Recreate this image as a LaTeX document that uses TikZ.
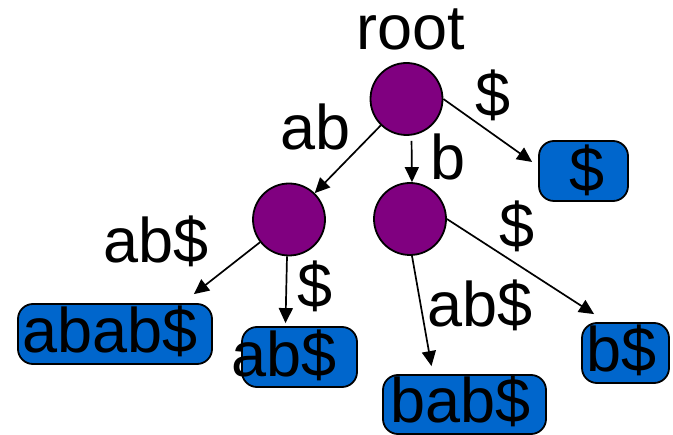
\documentclass[tikz,border=0pt]{standalone}
\usepackage{fontspec}
\setmainfont{Liberation Sans}
\usetikzlibrary{arrows.meta,calc}

\definecolor{nodepurple}{RGB}{128,0,128}
\definecolor{leafblue}{RGB}{0,102,204}

\tikzset{
  inner/.style={circle, draw=black, line width=1.8pt, fill=nodepurple,
    minimum size=72pt, inner sep=0pt},
  leaf/.style={rectangle, rounded corners=15pt, draw=black, line width=1.8pt,
    fill=leafblue, inner sep=0pt},
  txt/.style={anchor=base, inner sep=0pt, font=\fontsize{63pt}{70pt}\selectfont},
  edge/.style={line width=1.7pt, -{Triangle[length=15pt,width=14pt]}},
}

\begin{document}
\begin{tikzpicture}[x=1pt,y=-1pt]
  \useasboundingbox (0,0) rectangle (673,435);

  % internal nodes of the suffix tree
  \node[inner] (root) at (406.5,99) {};
  \node[inner] (na)   at (289,219.5) {};
  \node[inner] (nb)   at (410,219) {};

  % leaves
  \node[leaf, minimum width=89pt,  minimum height=60pt] (leafD)    at (583.5,171) {};
  \node[leaf, minimum width=194pt, minimum height=60pt] (leafABAB) at (115,334) {};
  \node[leaf, minimum width=115pt, minimum height=60pt] (leafAB)   at (299.5,357) {};
  \node[leaf, minimum width=163pt, minimum height=59pt] (leafBAB)  at (464.5,404.5) {};
  \node[leaf, minimum width=87pt,  minimum height=60pt] (leafB)    at (625.5,353) {};

  % leaf texts
  \node[txt] (tD)    at (587,192)   {\$};
  \node[txt] (tABAB) at (110,353)   {abab\$};
  \node[txt] (tAB)   at (284,377)   {ab\$};
  \node[txt] (tBAB)  at (460.5,423) {bab\$};
  \node[txt] (tB)    at (621.5,372) {b\$};

  % arrow end points just short of the leaves
  \coordinate (pD)    at ($(leafD.west)+(-6,-9)$);
  \coordinate (pABAB) at ($(leafABAB.north east)+(-19,-9)$);
  \coordinate (pAB)   at ($(leafAB.north)+(-14,-3)$);
  \coordinate (pBAB)  at ($(leafBAB.north)+(-33,-8)$);
  \coordinate (pB)    at ($(leafB.north west)+(13,-8)$);

  % edges
  \draw[edge] (root) -- (na);
  \draw[edge, shorten <=5pt] ($(root.south)+(5,0)$) -- ($(nb.north)+(2,0)$);
  \draw[edge] (root.east) -- (pD);
  \draw[edge] (na) -- (pABAB);
  \draw[edge] ($(na.south)+(-2,0)$) -- (pAB);
  \draw[edge] ($(nb.south)+(2,0)$) -- (pBAB);
  \draw[edge] (nb.east) -- (pB);

  % edge labels
  \node[txt] (lRoot) at (410.5,50)  {root};
  \node[txt] (lAB)   at (316,150)   {ab};
  \node[txt] (lB)    at (448,180)   {b};
  \node[txt] (lD1)   at (493,117)   {\$};
  \node[txt] (lABD)  at (156,263)   {ab\$};
  \node[txt] (lD2)   at (315,308)   {\$};
  \node[txt] (lD3)   at (517,248)   {\$};
  \node[txt] (lABD2) at (480,327)   {ab\$};
\end{tikzpicture}
\end{document}
